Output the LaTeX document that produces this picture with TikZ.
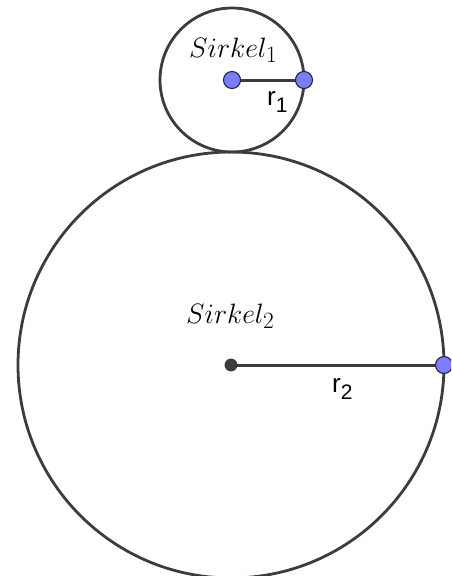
\documentclass[tikz,border=0pt]{standalone}
\usepackage{graphicx}
\usepackage{fontspec}
\newfontfamily\labfont{Liberation Sans}
\definecolor{linegray}{RGB}{60,60,60}
\definecolor{ptblue}{RGB}{125,125,255}
\definecolor{ptborder}{RGB}{40,40,60}
\newcommand{\bigmath}[1]{\scalebox{1.125}{\fontsize{24.88}{30}\selectfont$#1$}}
\begin{document}
\begin{tikzpicture}[x=1pt,y=-1pt,
  curve/.style={draw=linegray,line width=2.8pt},
  seg/.style={draw=linegray,line width=3pt},
  bluept/.style={circle,fill=ptblue,draw=ptborder,line width=1.1pt,minimum size=17pt,inner sep=0pt},
  blackpt/.style={circle,fill=linegray,draw=black!80,line width=0.8pt,minimum size=12pt,inner sep=0pt},
  circlabel/.style={anchor=base west,inner sep=0pt},
  seglabel/.style={anchor=base west,inner sep=0pt,font=\labfont\fontsize{26}{30}\selectfont}
]
\clip (0,0) rectangle (451,576);
\useasboundingbox (0,0) rectangle (451,576);
\coordinate (M1) at (232,80);
\coordinate (P1) at (304,80);
\coordinate (M2) at (231,365);
\coordinate (P2) at (444,365);
\draw[curve] (M1) circle[radius=72pt];
\draw[curve] (M2) circle[radius=213pt];
\draw[seg] (M1) -- (P1);
\draw[seg] (M2) -- (P2);
\node[bluept] (A) at (M1) {};
\node[bluept] (B) at (P1) {};
\node[blackpt] (C) at (M2) {};
\node[bluept] (D) at (P2) {};
\node[circlabel] (s1) at (189,57.5) {\bigmath{Sirkel_1}};
\node[circlabel] (s2) at (186,323) {\bigmath{Sirkel_2}};
\node[seglabel] (r1) at (267,105) {r\raisebox{-0.3em}{\fontsize{21}{23}\selectfont 1}};
\node[seglabel] (r2) at (332,392) {r\raisebox{-0.3em}{\fontsize{21}{23}\selectfont 2}};
\end{tikzpicture}
\end{document}
